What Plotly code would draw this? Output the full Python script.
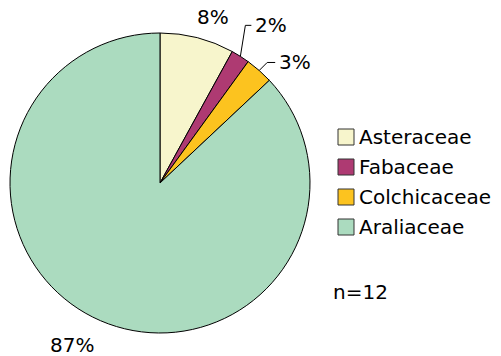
import math
import plotly.graph_objects as go

families = ["Asteraceae", "Fabaceae", "Colchicaceae", "Araliaceae"]
shares = [8, 2, 3, 87]
colors = ["#F7F5CC", "#AE3A72", "#FCC31F", "#ABDBBF"]
sample_note = "n=12"

W, H = 501, 356
CX, CY, R = 160, 183, 150
FONT = "DejaVu Sans"
FS = 20

fig = go.Figure(go.Pie(
    labels=families, values=shares, sort=False, direction="clockwise",
    rotation=0, marker=dict(colors=colors, line=dict(color="#000000", width=1)),
    textinfo="none", hoverinfo="label+percent", showlegend=False,
    domain=dict(x=[(CX - R) / W, (CX + R) / W], y=[1 - (CY + R) / H, 1 - (CY - R) / H]),
))


def px(angle, r):
    a = math.radians(angle)
    return CX + r * math.sin(a), CY - r * math.cos(a)


def to_paper(x, y):
    return x / W, 1 - y / H


total = sum(shares)
mids = []
acc = 0
for v in shares:
    mids.append((acc + v / 2) / total * 360)
    acc += v

annotations = []
shapes = []
placement = [
    dict(kind="plain", dang=3.3, r=174),
    dict(kind="leader", up=31, rise_dx=5, run=6),
    dict(kind="leader", up=8, rise_dx=8, run=8),
    dict(kind="plain", dang=5.1, r=184),
]
for v, m, p in zip(shares, mids, placement):
    txt = f"{v}%"
    if p["kind"] == "plain":
        x, y = px(m + p["dang"], p["r"])
        xp, yp = to_paper(x, y)
        annotations.append(dict(x=xp, y=yp, xref="paper", yref="paper", text=txt,
                                showarrow=False, xanchor="center", yanchor="middle",
                                font=dict(family=FONT, size=FS, color="black")))
    else:
        x0, y0 = px(m, R)
        x1, y1 = x0 + p["rise_dx"], y0 - p["up"]
        x2 = x1 + p["run"]
        pts = [to_paper(x0, y0), to_paper(x1, y1), to_paper(x2, y1)]
        path = "M {} {} L {} {} L {} {}".format(*[c for pt in pts for c in pt])
        shapes.append(dict(type="path", xref="paper", yref="paper", path=path,
                           line=dict(color="black", width=1)))
        xp, yp = to_paper(x2 + 2, y1)
        annotations.append(dict(x=xp, y=yp, xref="paper", yref="paper", text=txt,
                                showarrow=False, xanchor="left", yanchor="middle",
                                font=dict(family=FONT, size=FS, color="black")))

# legend: swatches + labels
LEG_X, LEG_Y0, LEG_DY, SW = 338, 137, 30, 16
for i, (name, col) in enumerate(zip(families, colors)):
    yc = LEG_Y0 + i * LEG_DY
    xa, ya = to_paper(LEG_X, yc - SW / 2)
    xb, yb = to_paper(LEG_X + SW, yc + SW / 2)
    shapes.append(dict(type="rect", xref="paper", yref="paper", x0=xa, x1=xb, y0=yb, y1=ya,
                       fillcolor=col, line=dict(color="#333333", width=1)))
    xt, yt = to_paper(LEG_X + SW + 3, yc)
    annotations.append(dict(x=xt, y=yt, xref="paper", yref="paper", text=name,
                            showarrow=False, xanchor="left", yanchor="middle",
                            font=dict(family=FONT, size=FS, color="black")))

xn, yn = to_paper(331, 292)
annotations.append(dict(x=xn, y=yn, xref="paper", yref="paper",
                        text=sample_note, showarrow=False, xanchor="left", yanchor="middle",
                        font=dict(family=FONT, size=FS, color="black")))

fig.update_layout(
    width=W, height=H, margin=dict(l=0, r=0, t=0, b=0),
    paper_bgcolor="white", plot_bgcolor="white",
    font=dict(family=FONT, size=FS, color="black"),
    showlegend=False,
    annotations=annotations, shapes=shapes,
)

fig.write_html("out.html")
